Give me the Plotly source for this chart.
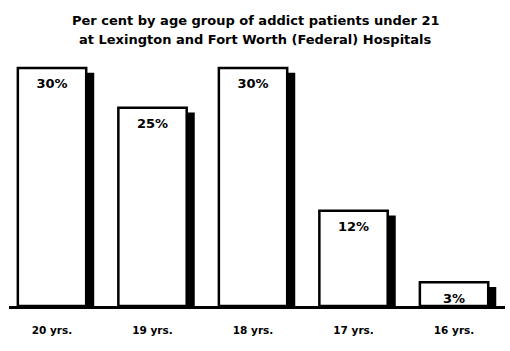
import plotly.graph_objects as go

categories = ["20 yrs.", "19 yrs.", "18 yrs.", "17 yrs.", "16 yrs."]
percent = [30, 25, 30, 12, 3]
labels = ["30%", "25%", "30%", "12%", "3%"]
title_lines = [
    "Per cent by age group of addict patients under 21",
    "at Lexington and Fort Worth (Federal) Hospitals",
]

pos = list(range(len(categories)))
bar_w = 0.68
shift = 0.08

fig = go.Figure()
# shadow
fig.add_trace(go.Bar(
    x=pos, y=[v - 0.6 for v in percent],
    offset=-bar_w / 2 + shift, width=bar_w,
    marker=dict(color="black", line=dict(width=0)),
    hoverinfo="skip", showlegend=False,
))
# main bars
fig.add_trace(go.Bar(
    x=pos, y=percent,
    offset=-bar_w / 2, width=bar_w,
    marker=dict(color="white", line=dict(color="black", width=2.5)),
    showlegend=False,
))
# labels
fig.add_trace(go.Scatter(
    x=pos, y=[v - 2.15 for v in percent],
    mode="text", text=labels,
    textfont=dict(family="DejaVu Sans", size=13, color="black", weight="bold"),
    showlegend=False, hoverinfo="skip",
))

for line, shift_px in zip(title_lines, [40, 21]):
    fig.add_annotation(
        text=line, xref="paper", yref="paper", x=0.497, y=1,
        xanchor="center", yanchor="middle", yshift=shift_px, showarrow=False,
        font=dict(family="DejaVu Sans", size=13, color="black", weight="bold"),
    )

fig.update_layout(
    width=510, height=351,
    margin=dict(l=9, r=5, t=60, b=45),
    paper_bgcolor="white", plot_bgcolor="white",
    barmode="overlay",
    xaxis=dict(
        range=[-0.428, 4.507],
        tickvals=pos, ticktext=categories,
        showline=True, linecolor="black", linewidth=3,
        ticks="outside", ticklen=8, tickcolor="rgba(0,0,0,0)",
        ticklabelstandoff=4,
        tickfont=dict(family="DejaVu Sans", size=10.5, color="black", weight="bold"),
        showgrid=False, zeroline=False, fixedrange=True,
    ),
    yaxis=dict(
        range=[0, 31.02], visible=False, showgrid=False, zeroline=False,
    ),
)

fig.write_html("out.html")
